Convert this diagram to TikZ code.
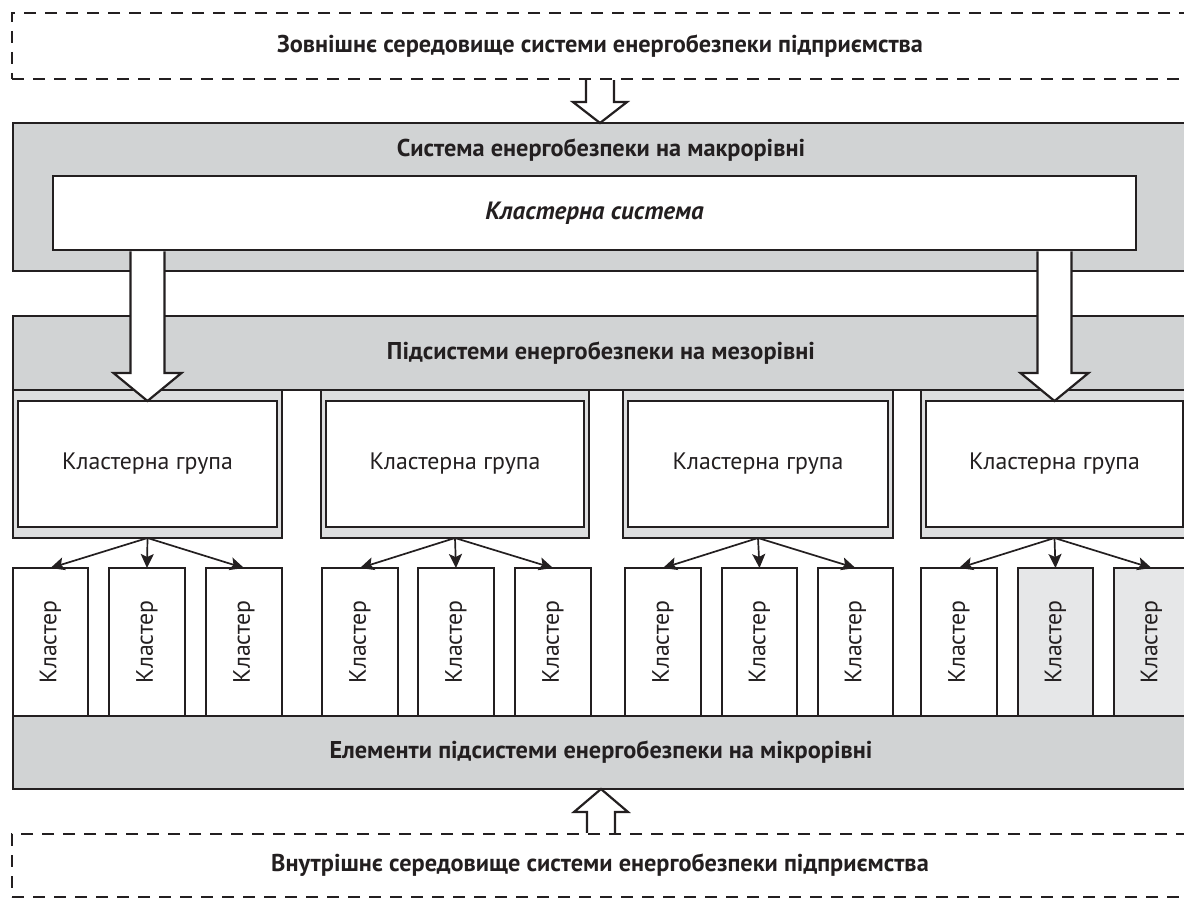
\documentclass[tikz,border=0pt]{standalone}
\usepackage{fontspec}
\setmainfont{PT Sans}
\usetikzlibrary{calc,arrows.meta}
\definecolor{band}{RGB}{209,211,212}
\definecolor{framegray}{RGB}{221,222,223}
\definecolor{lightgray}{RGB}{230,231,232}
\definecolor{ink}{RGB}{35,31,32}
\newcommand\clusterbox[4]{%
  \node[clus,fill=#4,minimum width={#3-#2}] (#1) at (#2,568) {};
  \node[ctext] (#1t) at (#1.center) {Кластер};}
\newcommand\groupbox[4]{%
  \node[box,fill=framegray,minimum width={#3-#2},minimum height=148] (#1) at (#2,390) {};
  \node[box,fill=white,minimum width={#3-#2-10},minimum height=126] (#1in) at (#2+5,401) {};
  \node[gtext] (#1t) at (#1in.center) {Кластерна група};}
\begin{document}
\begin{tikzpicture}[x=1pt,y=-1pt,
  box/.style={draw=ink,line width=2.5pt,inner sep=0pt,outer sep=0pt,anchor=north west,text=ink},
  envbox/.style={box,dash pattern=on 12pt off 9pt,minimum width=1176,minimum height=#1},
  bandbox/.style={box,fill=band,minimum width=1176},
  clus/.style={box,minimum height=148},
  ttext/.style={text=ink,inner sep=0pt,font=\fontsize{24.3}{28}\selectfont\bfseries},
  gtext/.style={text=ink,inner sep=0pt,font=\fontsize{23.8}{28}\selectfont},
  ctext/.style={gtext,rotate=90},
  blockarrow/.style={draw=ink,line width=2.2pt,line join=miter},
  sarrow/.style={draw=ink,line width=1.7pt,-{Stealth[length=14pt,width=13pt,inset=3pt]}}
]
\useasboundingbox (0,0) rectangle (1184,899);
\clip (0,0) rectangle (1184,899);

% environments
\node[envbox=66] (ext) at (12,13) {};
\node[ttext] (extt) at (ext.center) {Зовнішнє середовище системи енергобезпеки підприємства};
\node[envbox=63] (int) at (12,834) {};
\node[ttext] (intt) at (int.center) {Внутрішнє середовище системи енергобезпеки підприємства};

% macro level
\node[bandbox,minimum height=148] (macro) at (13,123) {};
\node[ttext] (macrot) at (601,150) {Система енергобезпеки на макрорівні};

% meso level
\node[bandbox,minimum height=74] (meso) at (13,316) {};
\node[ttext] (mesot) at (meso.center) {Підсистеми енергобезпеки на мезорівні};

% groups
\groupbox{g1}{13}{282}{}
\groupbox{g2}{321}{589}{}
\groupbox{g3}{623}{893}{}
\groupbox{g4}{921}{1188}{}

% micro level
\node[bandbox,minimum height=73] (micro) at (13,716) {};
\node[ttext] (microt) at (micro.center) {Елементи підсистеми енергобезпеки на мікрорівні};

% clusters
\clusterbox{c11}{13}{88}{white}
\clusterbox{c12}{109}{185}{white}
\clusterbox{c13}{206}{282}{white}
\clusterbox{c21}{322}{398}{white}
\clusterbox{c22}{418}{494}{white}
\clusterbox{c23}{515}{591}{white}
\clusterbox{c31}{625}{701}{white}
\clusterbox{c32}{722}{797}{white}
\clusterbox{c33}{818}{893}{white}
\clusterbox{c41}{921}{997}{white}
\clusterbox{c42}{1018}{1093}{lightgray}
\clusterbox{c43}{1114}{1189}{lightgray}

% cluster system
\node[box,fill=white,minimum width=1083,minimum height=74] (cs) at (53,176) {};
\node[text=ink,inner sep=0pt,font=\fontsize{25}{28}\selectfont\bfseries\itshape] (cst) at (cs.center) {Кластерна система};

% block arrows: cluster system -> groups
\foreach \g in {g1,g4}{
  \coordinate (top) at ($(\g.north |- cs.south)+(0,1.25)$);
  \coordinate (tip) at (\g in.north);
  \fill[white] ($(top)+(-17,0)$) -- ($(tip)+(-17,-28)$) -- ($(tip)+(-34,-28)$) -- (tip)
     -- ($(tip)+(34,-28)$) -- ($(tip)+(17,-28)$) -- ($(top)+(17,0)$) -- cycle;
  \draw[blockarrow] ($(top)+(-17,0)$) -- ($(tip)+(-17,-28)$) -- ($(tip)+(-34,-28)$) -- (tip)
     -- ($(tip)+(34,-28)$) -- ($(tip)+(17,-28)$) -- ($(top)+(17,0)$);
}

% block arrow: external -> macro
\coordinate (a1) at (600,0);
\coordinate (atop) at ($(a1 |- ext.south)+(0,1.25)$);
\coordinate (atip) at (a1 |- macro.north);
\fill[white] ($(atop)+(-14,0)$) -- ($(atip)+(-14,-21)$) -- ($(atip)+(-27,-21)$) -- (atip)
   -- ($(atip)+(27,-21)$) -- ($(atip)+(14,-21)$) -- ($(atop)+(14,0)$) -- cycle;
\draw[blockarrow] ($(atop)+(-14,0)$) -- ($(atip)+(-14,-21)$) -- ($(atip)+(-27,-21)$) -- (atip)
   -- ($(atip)+(27,-21)$) -- ($(atip)+(14,-21)$) -- ($(atop)+(14,0)$);

% block arrow: internal -> micro
\coordinate (b1) at (601,0);
\coordinate (bbot) at ($(b1 |- int.north)+(0,-1.25)$);
\coordinate (btip) at (b1 |- micro.south);
\fill[white] ($(bbot)+(-14,0)$) -- ($(btip)+(-14,23)$) -- ($(btip)+(-27,23)$) -- (btip)
   -- ($(btip)+(27,23)$) -- ($(btip)+(14,23)$) -- ($(bbot)+(14,0)$) -- cycle;
\draw[blockarrow] ($(bbot)+(-14,0)$) -- ($(btip)+(-14,23)$) -- ($(btip)+(-27,23)$) -- (btip)
   -- ($(btip)+(27,23)$) -- ($(btip)+(14,23)$) -- ($(bbot)+(14,0)$);

% small arrows: groups -> clusters
\foreach \g in {1,2,3,4}{
  \foreach \c in {1,2,3}{
    \draw[sarrow] (g\g.south) -- (c\g\c.north);
  }
}
\end{tikzpicture}
\end{document}
